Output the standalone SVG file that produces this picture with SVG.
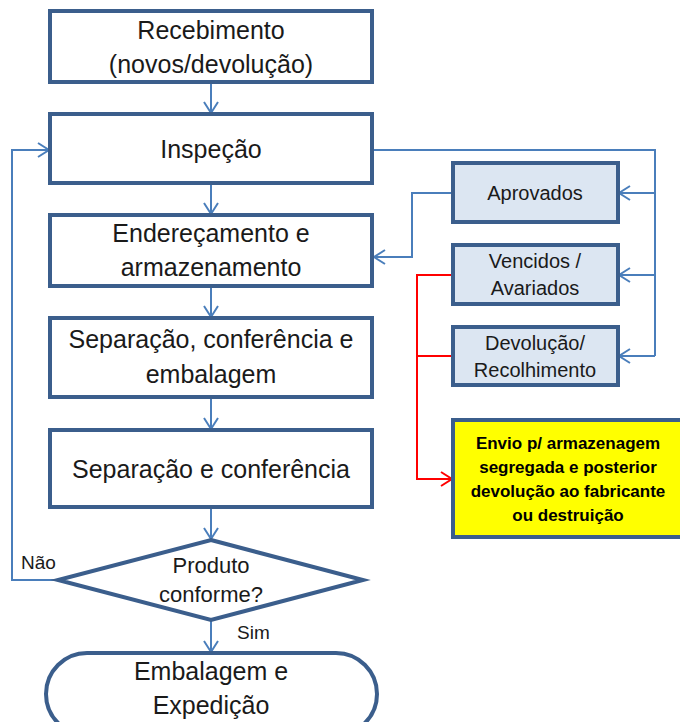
<svg xmlns="http://www.w3.org/2000/svg" width="680" height="722" viewBox="0 0 680 722">
<defs>
<marker id="ab" markerUnits="userSpaceOnUse" markerWidth="14" markerHeight="16" refX="12" refY="8" orient="auto">
<polyline points="1,1 12,8 1,15" fill="none" stroke="#4A7EBB" stroke-width="2"/>
</marker>
<marker id="ar" markerUnits="userSpaceOnUse" markerWidth="14" markerHeight="16" refX="12" refY="8" orient="auto">
<polyline points="1,1 12,8 1,15" fill="none" stroke="#FF0000" stroke-width="2"/>
</marker>
<style>
.box{fill:#FFFFFF;stroke:#3B5E8C;stroke-width:4}
.sbox{fill:#DCE6F2;stroke:#3B5E8C;stroke-width:4}
.ybox{fill:#FFFF00;stroke:#3B5E8C;stroke-width:4}
.t{font-family:"Liberation Sans",Arial,sans-serif;font-size:25px;fill:#1a1a1a;text-anchor:middle}
.s{font-family:"Liberation Sans",Arial,sans-serif;font-size:20px;fill:#1a1a1a;text-anchor:middle}
.d{font-family:"Liberation Sans",Arial,sans-serif;font-size:22px;fill:#1a1a1a;text-anchor:middle}
.l{font-family:"Liberation Sans",Arial,sans-serif;font-size:19px;fill:#1a1a1a}
.y{font-family:"Liberation Sans",Arial,sans-serif;font-size:17px;font-weight:bold;fill:#000;text-anchor:middle}
.c{fill:none;stroke:#4A7EBB;stroke-width:2}
.r{fill:none;stroke:#FF0000;stroke-width:2}
</style>
</defs>
<rect width="680" height="722" fill="#FFFFFF"/>
<g id="connectors">
<line class="c" x1="211" y1="82" x2="211" y2="113" marker-end="url(#ab)"/>
<line class="c" x1="211" y1="183" x2="211" y2="214" marker-end="url(#ab)"/>
<line class="c" x1="211" y1="286" x2="211" y2="317" marker-end="url(#ab)"/>
<line class="c" x1="211" y1="397" x2="211" y2="429" marker-end="url(#ab)"/>
<line class="c" x1="211" y1="507" x2="211" y2="539" marker-end="url(#ab)"/>
<line class="c" x1="211" y1="620" x2="211" y2="652" marker-end="url(#ab)"/>
<polyline class="c" points="58,580 12,580 12,150 49,150" marker-end="url(#ab)"/>
<polyline class="c" points="372,150 655,150 655,356"/>
<line class="c" x1="655" y1="193" x2="619" y2="193" marker-end="url(#ab)"/>
<line class="c" x1="655" y1="275" x2="619" y2="275" marker-end="url(#ab)"/>
<line class="c" x1="655" y1="356" x2="619" y2="356" marker-end="url(#ab)"/>
<polyline class="c" points="453,193 412,193 412,257 374,257" marker-end="url(#ab)"/>
<polyline class="r" points="453,275 417,275 417,479 452,479" marker-end="url(#ar)"/>
<line class="r" x1="453" y1="356" x2="417" y2="356"/>
</g>
<g id="recebimento">
<rect class="box" x="50" y="11" width="322" height="71"/>
<text class="t" x="211" y="39">Recebimento</text>
<text class="t" x="211" y="73">(novos/devolução)</text>
</g>
<g id="inspecao">
<rect class="box" x="50" y="114" width="322" height="69"/>
<text class="t" x="211" y="158">Inspeção</text>
</g>
<g id="enderecamento">
<rect class="box" x="50" y="215" width="322" height="71"/>
<text class="t" x="211" y="242">Endereçamento e</text>
<text class="t" x="211" y="276">armazenamento</text>
</g>
<g id="separacao-embalagem">
<rect class="box" x="50" y="318" width="322" height="79"/>
<text class="t" x="211" y="348">Separação, conferência e</text>
<text class="t" x="211" y="383">embalagem</text>
</g>
<g id="separacao-conferencia">
<rect class="box" x="50" y="430" width="322" height="77"/>
<text class="t" x="211" y="478">Separação e conferência</text>
</g>
<g id="decisao">
<polygon class="box" points="211,540 363,580 211,620 58,580"/>
<text class="d" x="211" y="573">Produto</text>
<text class="d" x="211" y="602">conforme?</text>
</g>
<g id="label-nao"><text class="l" x="21" y="569">Não</text></g>
<g id="label-sim"><text class="l" x="237" y="639">Sim</text></g>
<g id="embalagem-expedicao">
<rect class="box" x="46" y="653" width="331" height="82" rx="41" ry="41"/>
<text class="t" x="211" y="680">Embalagem e</text>
<text class="t" x="211" y="714">Expedição</text>
</g>
<g id="aprovados">
<rect class="sbox" x="453" y="163" width="165" height="59"/>
<text class="s" x="535" y="200">Aprovados</text>
</g>
<g id="vencidos">
<rect class="sbox" x="453" y="245" width="165" height="59"/>
<text class="s" x="535" y="268">Vencidos /</text>
<text class="s" x="535" y="295">Avariados</text>
</g>
<g id="devolucao">
<rect class="sbox" x="453" y="327" width="165" height="58"/>
<text class="s" x="535" y="350">Devolução/</text>
<text class="s" x="535" y="377">Recolhimento</text>
</g>
<g id="envio">
<rect class="ybox" x="453" y="420" width="230" height="117"/>
<text class="y" x="568" y="449">Envio p/ armazenagem</text>
<text class="y" x="568" y="473">segregada e posterior</text>
<text class="y" x="568" y="497">devolução ao fabricante</text>
<text class="y" x="568" y="521">ou destruição</text>
</g>
</svg>
